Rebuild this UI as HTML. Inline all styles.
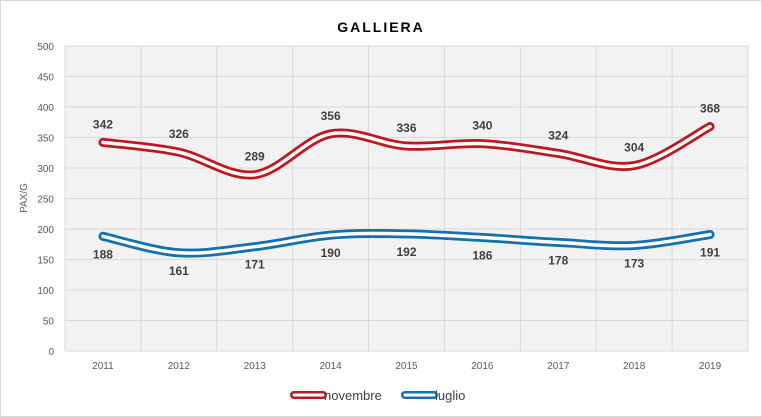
<!DOCTYPE html><html><head><style>body{margin:0;background:#fff}svg{display:block}text{font-family:"Liberation Sans",sans-serif}</style></head><body>
<svg id="s" width="762" height="417" xmlns="http://www.w3.org/2000/svg">
<rect x="0.5" y="0.5" width="761" height="416" fill="#fff" stroke="#d9d9d9"/>
<text x="381" y="32" text-anchor="middle" font-size="14" font-weight="bold" letter-spacing="2" fill="#000">GALLIERA</text>
<rect x="65" y="46" width="683" height="305" fill="#f2f2f2"/>
<g id="g"></g>
<text transform="translate(27,198) rotate(-90)" text-anchor="middle" font-size="10" fill="#595959">PAX/G</text>
<g id="c"></g>
<line x1="294" y1="395" x2="323" y2="395" stroke="#c0171f" stroke-width="8" stroke-linecap="round"/>
<line x1="294" y1="395" x2="323" y2="395" stroke="#fff" stroke-width="3" stroke-linecap="round"/>
<text x="324" y="400" font-size="13" fill="#404040">novembre</text>
<line x1="405" y1="395" x2="434" y2="395" stroke="#1570b0" stroke-width="8" stroke-linecap="round"/>
<line x1="405" y1="395" x2="434" y2="395" stroke="#fff" stroke-width="3" stroke-linecap="round"/>
<text x="435" y="400" font-size="13" fill="#404040">luglio</text>
</svg>
<script>
const ns="http://www.w3.org/2000/svg",g=document.getElementById('g'),c=document.getElementById('c');
function el(p,t,a,tx){const e=document.createElementNS(ns,t);for(const k in a)e.setAttribute(k,a[k]);if(tx!=null)e.textContent=tx;p.appendChild(e);return e;}
const Y=v=>351-v*0.61,W=683/9,X=i=>65+W*(i+0.5);
for(let v=0;v<=500;v+=50){el(g,'line',{x1:65,x2:748,y1:Y(v),y2:Y(v),stroke:'#d9d9d9'});el(g,'text',{x:54,y:Y(v)+4,'text-anchor':'end','font-size':10,fill:'#595959'},v);}
for(let k=0;k<=9;k++)el(g,'line',{x1:65+W*k,x2:65+W*k,y1:46,y2:351,stroke:'#d9d9d9'});
for(let i=0;i<9;i++)el(g,'text',{x:X(i),y:369,'text-anchor':'middle','font-size':10,fill:'#595959'},2011+i);
const R=[342,326,289,356,336,340,324,304,368],B=[188,161,171,190,192,186,178,173,191];
function path(d){const p=d.map((v,i)=>[X(i),Y(v)]);let s=`M${p[0]}`;for(let i=0;i<p.length-1;i++){const p0=p[Math.max(i-1,0)],p1=p[i],p2=p[i+1],p3=p[Math.min(i+2,p.length-1)],t=1/6;s+=` C${p1[0]+(p2[0]-p0[0])*t},${p1[1]+(p2[1]-p0[1])*t} ${p2[0]-(p3[0]-p1[0])*t},${p2[1]-(p3[1]-p1[1])*t} ${p2[0]},${p2[1]}`;}return s;}
[[R,'#c0171f',-14],[B,'#1570b0',22]].forEach(([d,col,off])=>{const p=path(d);el(c,'path',{d:p,fill:'none',stroke:col,'stroke-width':9,'stroke-linecap':'round'});el(c,'path',{d:p,fill:'none',stroke:'#fff','stroke-width':3.5,'stroke-linecap':'round'});d.forEach((v,i)=>el(c,'text',{x:X(i),y:Y(v)+off,'text-anchor':'middle','font-size':12,'font-weight':'bold',fill:'#404040'},v));});
</script></body></html>
